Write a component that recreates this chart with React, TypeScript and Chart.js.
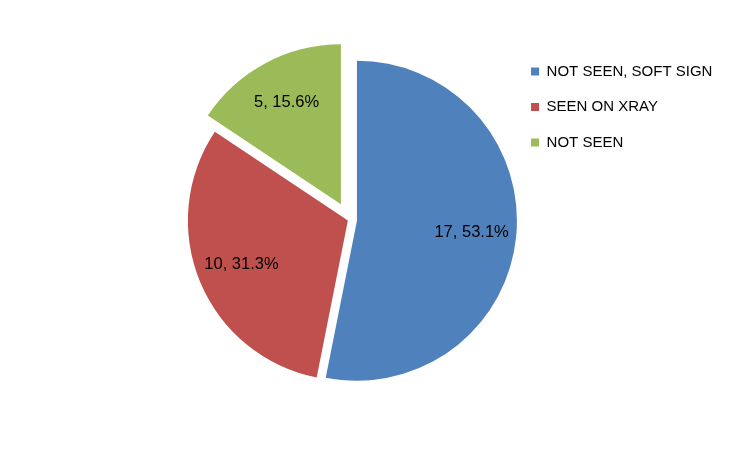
import { useEffect, useRef } from "react";
import { Chart, registerables } from "chart.js";

Chart.register(...registerables);

const categories = ["NOT SEEN, SOFT SIGN", "SEEN ON XRAY", "NOT SEEN"];
const counts = [17, 10, 5];
const colors = ["#4F81BD", "#C0504D", "#9BBB59"];

// Moves each slice outward from the pie centre (exploded pie), keeping one common radius.
const explode = {
  id: "explode",
  beforeDatasetsDraw(chart: any, _args: any, opts: any) {
    const meta = chart.getDatasetMeta(0);
    const area = chart.chartArea;
    const cx = (area.left + area.right) / 2;
    const cy = (area.top + area.bottom) / 2;
    const dist: number[] = opts.distances || [];
    meta.data.forEach((arc: any, i: number) => {
      const mid = (arc.startAngle + arc.endAngle) / 2;
      const d = dist[i] || 0;
      arc.x = cx + Math.cos(mid) * d;
      arc.y = cy + Math.sin(mid) * d;
    });
  },
};

const sliceLabels = {
  id: "sliceLabels",
  afterDatasetsDraw(chart: any, _args: any, opts: any) {
    const ctx = chart.ctx;
    const meta = chart.getDatasetMeta(0);
    const data = chart.data.datasets[0].data as number[];
    const total = data.reduce((a, b) => a + b, 0);
    ctx.save();
    ctx.font = '16.5px "Liberation Sans", Arial, sans-serif';
    ctx.fillStyle = "#000";
    ctx.textAlign = "center";
    ctx.textBaseline = "middle";
    meta.data.forEach((arc: any, i: number) => {
      const mid = (arc.startAngle + arc.endAngle) / 2;
      const r = arc.outerRadius * (opts.ratio || 0.72);
      const text = `${data[i]}, ${((data[i] / total) * 100).toFixed(1)}%`;
      ctx.fillText(text, arc.x + Math.cos(mid) * r, arc.y + Math.sin(mid) * r);
    });
    ctx.restore();
  },
};

export default function App() {
  const ref = useRef<HTMLCanvasElement | null>(null);
  useEffect(() => {
    if (!ref.current) return;
    const chart = new Chart(ref.current, {
      type: "pie",
      data: {
        labels: categories,
        datasets: [
          {
            data: counts,
            backgroundColor: colors,
            borderWidth: 0,
            radius: 160,
          } as any,
        ],
      },
      options: {
        responsive: false,
        animation: false,
        devicePixelRatio: 1,
        events: [],
        layout: { padding: { left: 188, right: 27.6, top: 43.5, bottom: 53.5 } },
        plugins: {
          tooltip: { enabled: false },
          explode: { distances: [7.7, 1.5, 17.8] },
          sliceLabels: { ratio: 0.72 },
          legend: {
            position: "right",
            align: "start",
            labels: {
              boxWidth: 8,
              boxHeight: 8,
              padding: 20.5,
              color: "#000",
              font: { family: '"Liberation Sans", Arial, sans-serif', size: 15 },
            },
          },
        },
      } as any,
      plugins: [explode, sliceLabels],
    });
    return () => chart.destroy();
  }, []);
  return (
    <div style={{ position: "absolute", left: 0, top: 0, width: 750, height: 450, background: "#fff" }}>
      <canvas ref={ref} width={750} height={450} style={{ display: "block" }} />
    </div>
  );
}
